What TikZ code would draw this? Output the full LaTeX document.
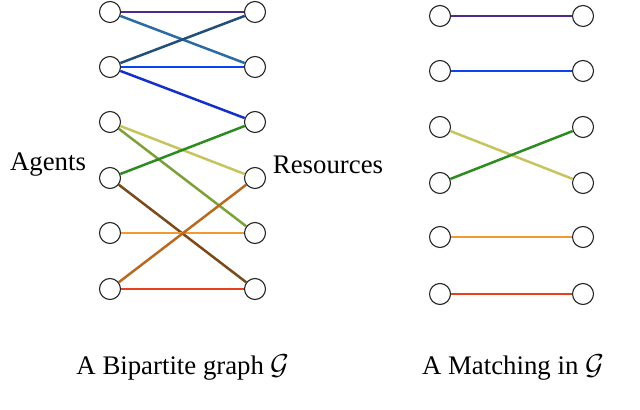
\documentclass[tikz,border=0pt]{standalone}
\usepackage{fontspec}
\setmainfont{Liberation Serif}
\definecolor{cPurple}{HTML}{4E2A8E}
\definecolor{cSteel}{HTML}{2C6BA6}
\definecolor{cSlate}{HTML}{224E78}
\definecolor{cBlue}{HTML}{0A44F2}
\definecolor{cDeep}{HTML}{1430C6}
\definecolor{cYellow}{HTML}{C6C45E}
\definecolor{cOlive}{HTML}{7DA03A}
\definecolor{cGreen}{HTML}{2E8B22}
\definecolor{cBrown}{HTML}{7A4A1A}
\definecolor{cOrange}{HTML}{F29A32}
\definecolor{cTan}{HTML}{B86A22}
\definecolor{cRed}{HTML}{E8401E}
\begin{document}
\begin{tikzpicture}[x=0.5pt,y=-0.5pt,
  vtx/.style={circle,draw=black!85,line width=0.55pt,fill=white,minimum size=10.5pt,inner sep=0pt},
  edge/.style={line width=1.25pt},
  lbl/.style={font=\fontsize{13.4}{16}\selectfont,inner sep=0pt}]
\useasboundingbox (0,0) rectangle (640,410);
% left graph
\foreach \i/\y in {1/12,2/67,3/122,4/178,5/233,6/289}{
  \node[vtx] (a\i) at (110,\y) {};
  \node[vtx] (r\i) at (255,\y) {};
}
% right graph
\foreach \i/\y in {1/16,2/71,3/127,4/183,5/237,6/294}{
  \node[vtx] (ma\i) at (440,\y) {};
  \node[vtx] (mr\i) at (583,\y) {};
}
\draw[edge,cPurple] (a1) -- (r1);
\draw[edge,cSteel] (a1) -- (r2);
\draw[edge,cSlate] (a2) -- (r1);
\draw[edge,cBlue] (a2) -- (r2);
\draw[edge,cDeep] (a2) -- (r3);
\draw[edge,cYellow] (a3) -- (r4);
\draw[edge,cOlive] (a3) -- (r5);
\draw[edge,cGreen] (a4) -- (r3);
\draw[edge,cBrown] (a4) -- (r6);
\draw[edge,cOrange] (a5) -- (r5);
\draw[edge,cTan] (a6) -- (r4);
\draw[edge,cRed] (a6) -- (r6);
\draw[edge,cPurple] (ma1) -- (mr1);
\draw[edge,cBlue] (ma2) -- (mr2);
\draw[edge,cYellow] (ma3) -- (mr4);
\draw[edge,cGreen] (ma4) -- (mr3);
\draw[edge,cOrange] (ma5) -- (mr5);
\draw[edge,cRed] (ma6) -- (mr6);
\node[lbl] (agents) at (48,165) {Agents};
\node[lbl] (res) at (328,165) {Resources};
\node[lbl] (cap1) at (183,368) {A Bipartite graph $\mathcal{G}$};
\node[lbl] (cap2) at (513,368) {A Matching in $\mathcal{G}$};
\end{tikzpicture}
\end{document}
